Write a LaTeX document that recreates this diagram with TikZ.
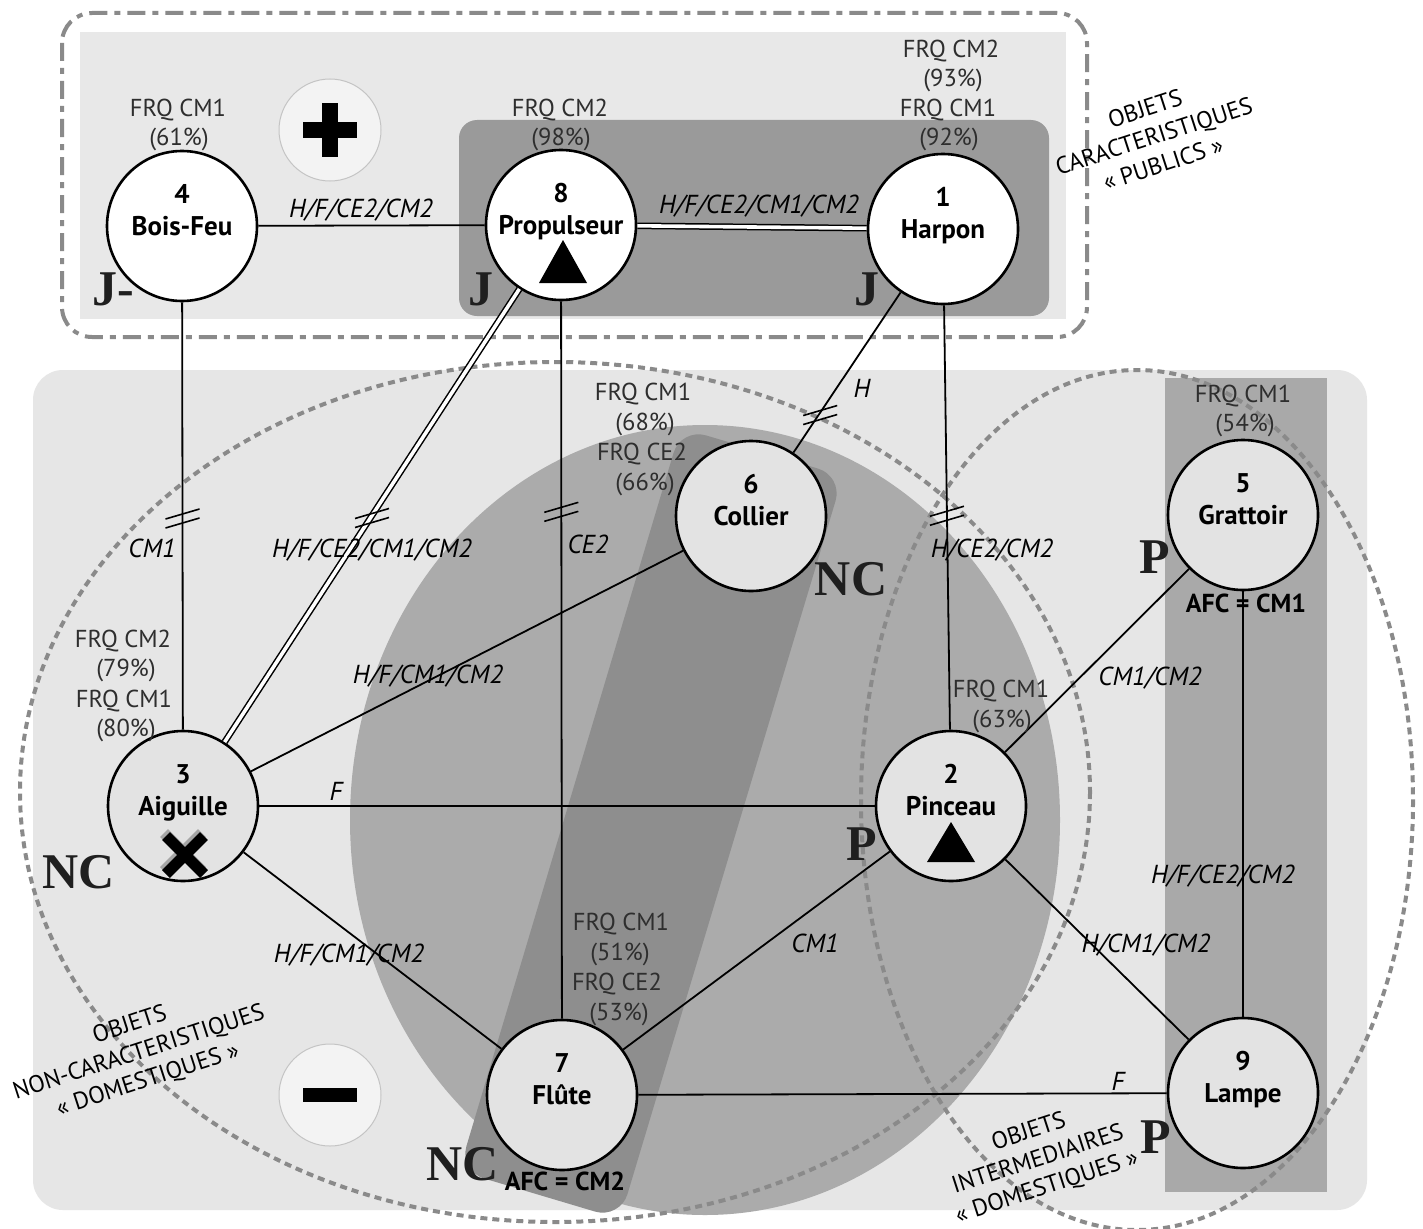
\documentclass[tikz,border=0pt]{standalone}
\usepackage{fontspec}
\setmainfont{PT Sans}
\newfontfamily\lettersfont{Liberation Serif}
\usetikzlibrary{calc}
\definecolor{toplight}{HTML}{E8E8E8}
\definecolor{topdark}{HTML}{9A9A9A}
\definecolor{lowlight}{HTML}{E6E6E6}
\definecolor{zonegray}{HTML}{ABABAB}
\definecolor{bandgray}{HTML}{8E8E8E}
\definecolor{colgray}{HTML}{A9A9A9}
\definecolor{objfill}{HTML}{E3E3E3}
\definecolor{rimgray}{HTML}{8A8A8A}
\definecolor{frqgray}{HTML}{2E2E2E}
\definecolor{signfill}{HTML}{F3F3F3}
\definecolor{signrim}{HTML}{C4C4C4}

% circle of an object: number above, name below
\newcommand\objtext[5]{%
  \node[numtxt] (#1a) at (#2,#3-23) {#4};
  \node[nametxt] (#1b) at (#2,#3+9) {#5};}

\begin{document}
\begin{tikzpicture}[x=1pt,y=-1pt,
  obj/.style={circle, draw=black, line width=2.6pt, minimum size=150pt, inner sep=0pt},
  objpub/.style={obj, fill=white},
  objdom/.style={obj, fill=objfill},
  numtxt/.style={anchor=base, inner sep=0pt, font=\fontsize{27}{30}\selectfont\bfseries},
  nametxt/.style={numtxt},
  frq/.style={anchor=base, inner sep=0pt, text=frqgray, font=\fontsize{24.5}{28}\selectfont},
  afc/.style={anchor=base, inner sep=0pt, font=\fontsize{26}{28}\selectfont\bfseries},
  lab/.style={anchor=base, inner sep=0pt, font=\fontsize{26}{28}\selectfont\itshape},
  big/.style={anchor=base, inner sep=0pt, text=black!88, font=\lettersfont\fontsize{50}{56}\selectfont\bfseries},
  zone/.style={align=center, inner sep=0pt, rotate=18, font=\fontsize{24}{29}\selectfont},
  link/.style={line width=1.8pt},
  duo/.style={double=white, double distance=3.6pt, line width=1.5pt},
  rim/.style={draw=rimgray, line width=4pt, dash pattern=on 7pt off 5pt},
  sign/.style={circle, fill=signfill, draw=signrim, line width=1pt, minimum size=102pt, inner sep=0pt},
  brk/.pic={\draw[line width=1.6pt] (-17,3) -- (17,-7) (-17,12) -- (17,2);},
]
\useasboundingbox (0,0) rectangle (1423,1228);
\clip (0,0) rectangle (1423,1228);
\fill[white] (0,0) rectangle (1423,1228);

% upper area: public objects
\draw[draw=rimgray, line width=4pt, dash pattern=on 18pt off 7pt on 6pt off 7pt,
      rounded corners=30pt] (62,13) rectangle (1087,337);
\fill[toplight] (80,32) rectangle (1066,319);
\fill[topdark, rounded corners=18pt] (459,120) rectangle (1049,316);

% lower area: domestic objects
\fill[lowlight, rounded corners=30pt] (33,370) rectangle (1367,1210);
\fill[zonegray] (705,820) ellipse [x radius=355, y radius=395];
\fill[bandgray, rounded corners=26pt] (681,428) -- (843,476) -- (620,1219) -- (459,1171) -- cycle;
\fill[colgray] (1165,378) rectangle (1327,1192);

% dotted groupings
\draw[rim] (555,792) ellipse [x radius=535, y radius=430];
\draw[rim] (1137,800) ellipse [x radius=276, y radius=430];

% plus / minus badges
\node[sign] (plus) at (330,130) {};
\fill[black] (322,103) rectangle (338,157);
\fill[black] (303,122) rectangle (357,138);
\node[sign] (minus) at (330,1095) {};
\fill[black] (303,1088) rectangle (357,1102);

% objects
\node[objpub] (n4) at (182,226) {};
\node[objpub] (n8) at (561,225) {};
\node[objpub] (n1) at (943,229) {};
\node[objdom] (n6) at (751,516) {};
\node[objdom] (n5) at (1243,515) {};
\node[objdom] (n3) at (183,806) {};
\node[objdom] (n2) at (951,806) {};
\node[objdom] (n7) at (562,1095) {};
\node[objdom] (n9) at (1243,1093) {};

% links between objects
\draw[link] (n4) -- (n8);
\draw[duo] (n8) -- (n1);
\draw[link] (n4) -- (n3);
\draw[duo] (n8) -- (n3);
\draw[link] (n8) -- (n7);
\draw[link] (n1) -- (n6);
\draw[link] (n1) -- (n2);
\draw[link] (n6) -- (n3);
\draw[link] (n3) -- (n2);
\draw[link] (n3) -- (n7);
\draw[link] (n2) -- (n7);
\draw[link] (n2) -- (n5);
\draw[link] (n2) -- (n9);
\draw[link] (n5) -- (n9);
\draw[link] (n7) -- (n9);

% break marks
\path (n4) -- (n3) coordinate[pos=0.50] (b43);
\path (n8) -- (n3) coordinate[pos=0.50] (b83);
\path (n8) -- (n7) coordinate[pos=0.29] (b87);
\path (n1) -- (n6) coordinate[pos=0.75] (b16);
\path (n1) -- (n2) coordinate[pos=0.49] (b12);
\foreach \m in {b43,b83,b87,b16,b12} \pic at (\m) {brk};

% object texts
\objtext{t4}{182}{226}{4}{Bois-Feu}
\objtext{t8}{561}{225}{8}{Propulseur}
\objtext{t1}{943}{229}{1}{Harpon}
\objtext{t6}{751}{516}{6}{Collier}
\objtext{t5}{1243}{515}{5}{Grattoir}
\objtext{t3}{183}{806}{3}{Aiguille}
\objtext{t2}{951}{806}{2}{Pinceau}
\objtext{t7}{562}{1095}{7}{Flûte}
\objtext{t9}{1243}{1093}{9}{Lampe}

% marks inside circles
\fill[black] (563,240) -- (587,283) -- (539,283) -- cycle;
\fill[black] (951,822) -- (975,862) -- (927,862) -- cycle;
\draw[gray!70, line width=11pt] (164,833) -- (202,871) (202,833) -- (164,871);
\draw[black, line width=11pt] (166,836) -- (204,874) (204,836) -- (166,874);

% frequencies
\node[frq] (f4a) at (178,117) {FRQ CM1};
\node[frq] (f4b) at (179,146) {(61\%)};
\node[frq] (f8a) at (560,117) {FRQ CM2};
\node[frq] (f8b) at (561,146) {(98\%)};
\node[frq] (f1a) at (951,58) {FRQ CM2};
\node[frq] (f1b) at (953,87) {(93\%)};
\node[frq] (f1c) at (948,117) {FRQ CM1};
\node[frq] (f1d) at (949,146) {(92\%)};
\node[frq] (f6a) at (643,400) {FRQ CM1};
\node[frq] (f6b) at (645,430) {(68\%)};
\node[frq] (f6c) at (642,460) {FRQ CE2};
\node[frq] (f6d) at (645,490) {(66\%)};
\node[frq] (f5a) at (1243,402) {FRQ CM1};
\node[frq] (f5b) at (1245,431) {(54\%)};
\node[frq] (f3a) at (123,647) {FRQ CM2};
\node[frq] (f3b) at (126,676) {(79\%)};
\node[frq] (f3c) at (124,707) {FRQ CM1};
\node[frq] (f3d) at (126,736) {(80\%)};
\node[frq] (f2a) at (1001,697) {FRQ CM1};
\node[frq] (f2b) at (1002,727) {(63\%)};
\node[frq] (f7a) at (621,930) {FRQ CM1};
\node[frq] (f7b) at (620,960) {(51\%)};
\node[frq] (f7c) at (617,990) {FRQ CE2};
\node[frq] (f7d) at (619,1020) {(53\%)};
\node[afc] (a5) at (1246,612) {AFC = CM1};
\node[afc] (a7) at (565,1190) {AFC = CM2};

% link labels
\node[lab] (l48) at (361,217) {H/F/CE2/CM2};
\node[lab] (l81) at (759,213) {H/F/CE2/CM1/CM2};
\node[lab] (l43) at (152,557) {CM1};
\node[lab] (l83) at (372,557) {H/F/CE2/CM1/CM2};
\node[lab] (l87) at (588,553) {CE2};
\node[lab] (l16) at (862,397) {H};
\node[lab] (l12) at (992,557) {H/CE2/CM2};
\node[lab] (l63) at (428,683) {H/F/CM1/CM2};
\node[lab] (l32) at (336,800) {F};
\node[lab] (l37) at (349,962) {H/F/CM1/CM2};
\node[lab] (l27) at (815,952) {CM1};
\node[lab] (l25) at (1150,685) {CM1/CM2};
\node[lab] (l29) at (1146,952) {H/CM1/CM2};
\node[lab] (l59) at (1223,883) {H/F/CE2/CM2};
\node[lab] (l79) at (1118,1090) {F};

% status letters
\node[big] (j4) at (113,305) {J-};
\node[big] (j8) at (481,305) {J};
\node[big] (j1) at (867,305) {J};
\node[big] (nc3) at (79,888) {NC};
\node[big] (nc6) at (851,595) {NC};
\node[big] (nc7) at (463,1180) {NC};
\node[big] (p5) at (1155,573) {P};
\node[big] (p2) at (862,860) {P};
\node[big] (p9) at (1156,1153) {P};

% group captions
\node[zone] (zpub) at (1154,136) {OBJETS\\CARACTERISTIQUES\\« PUBLICS »};
\node[zone] (zdom) at (139,1053) {OBJETS\\NON-CARACTERISTIQUES\\« DOMESTIQUES »};
\node[zone] (zint) at (1038,1160) {OBJETS\\INTERMEDIAIRES\\« DOMESTIQUES »};
\end{tikzpicture}
\end{document}
